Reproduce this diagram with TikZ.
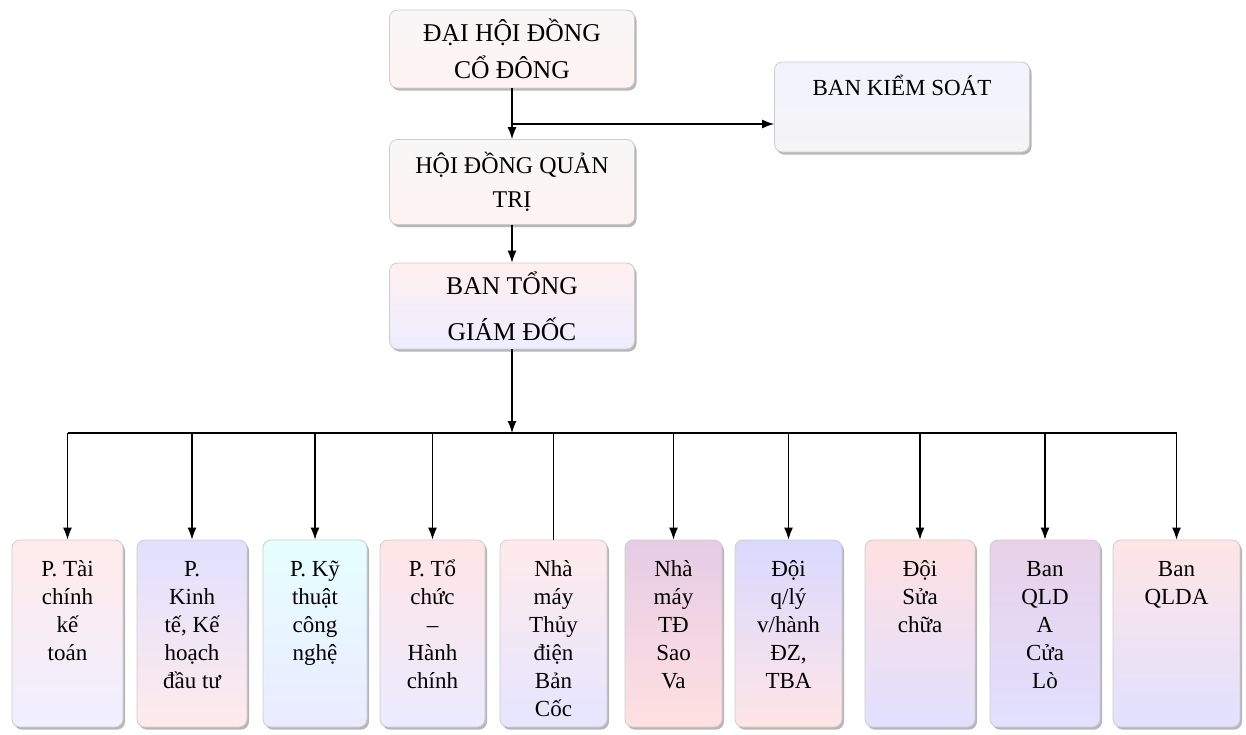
\documentclass[tikz,border=0pt]{standalone}
\usepackage{fontspec}
\setmainfont{Liberation Serif}
\usetikzlibrary{arrows.meta,shadows}

\begin{document}
\begin{tikzpicture}[x=0.5pt,y=-0.5pt,
    box/.style={draw=gray!40,rounded corners=4pt,inner sep=0pt,
      drop shadow={shadow xshift=1pt,shadow yshift=-1.3pt,fill=gray!70,opacity=0.8}},
    headbox/.style={box,align=center,minimum width=122.5pt,
      top color=gray!6,bottom color=red!5,
      font=\fontsize{12.8}{18.5}\selectfont},
    unit/.style={box,minimum height=93.5pt,font=\fontsize{11.5}{14}\selectfont},
    link/.style={line width=0.6pt},
    arr/.style={link,-{Latex[length=6pt,width=4.5pt]}}]
  \useasboundingbox[fill=white] (0,0) rectangle (1246,734);

  \node[headbox,minimum height=39pt] (dhdcd) at (512,49) {ĐẠI HỘI ĐỒNG\\CỔ ĐÔNG};
  \node[box,minimum width=127.5pt,minimum height=45pt,top color=blue!5,bottom color=gray!8,
    font=\fontsize{11.5}{18}\selectfont,text height=8pt,text depth=20pt] (bks) at (902,107) {BAN KIỂM SOÁT};
  \node[headbox,minimum height=42.5pt,font=\fontsize{12}{17}\selectfont] (hdqt) at (512,182) {HỘI ĐỒNG QUẢN\\TRỊ};
  \node[headbox,minimum height=43pt,top color=red!6,bottom color=blue!7,
    font=\fontsize{12.8}{23}\selectfont] (btgd) at (512,306) {BAN TỔNG\\GIÁM ĐỐC};

  % bottom row
  \node[unit,minimum width=55.5pt,top color=red!8,bottom color=blue!6] (tckt) at (67.5,633.5)
    {\parbox[t][93.5pt][t]{55pt}{\centering\vspace*{8.5pt}\strut P. Tài\\chính\\kế\\toán}};
  \node[unit,minimum width=55pt,top color=blue!12,bottom color=red!8] (ktkh) at (192,633.5)
    {\parbox[t][93.5pt][t]{55pt}{\centering\vspace*{8.5pt}\strut P.\\Kinh\\tế, Kế\\hoạch\\đầu tư}};
  \node[unit,minimum width=52pt,top color=cyan!10,bottom color=blue!8] (ktcn) at (315,633.5)
    {\parbox[t][93.5pt][t]{52pt}{\centering\vspace*{8.5pt}\strut P. Kỹ\\thuật\\công\\nghệ}};
  \node[unit,minimum width=52.5pt,top color=red!10,bottom color=blue!8] (tchc) at (432.5,633.5)
    {\parbox[t][93.5pt][t]{52pt}{\centering\vspace*{8.5pt}\strut P. Tổ\\chức\\–\\Hành\\chính}};
  \node[unit,minimum width=53.5pt,top color=red!8,bottom color=blue!10] (nmbc) at (553.5,633.5)
    {\parbox[t][93.5pt][t]{53pt}{\centering\vspace*{8.5pt}\strut Nhà\\máy\\Thủy\\điện\\Bản\\Cốc}};
  \node[unit,minimum width=48.5pt,top color=violet!20,bottom color=red!12] (nmsv) at (673.5,633.5)
    {\parbox[t][93.5pt][t]{48pt}{\centering\vspace*{8.5pt}\strut Nhà\\máy\\TĐ\\Sao\\Va}};
  \node[unit,minimum width=53.5pt,top color=blue!15,bottom color=red!10] (dqlvh) at (788.5,633.5)
    {\parbox[t][93.5pt][t]{53pt}{\centering\vspace*{8.5pt}\strut Đội\\q/lý\\v/hành\\ĐZ,\\TBA}};
  \node[unit,minimum width=55pt,top color=red!12,bottom color=blue!12] (dsc) at (920,633.5)
    {\parbox[t][93.5pt][t]{55pt}{\centering\vspace*{8.5pt}\strut Đội\\Sửa\\chữa}};
  \node[unit,minimum width=55pt,top color=violet!18,bottom color=blue!12] (qldacl) at (1045,633.5)
    {\parbox[t][93.5pt][t]{55pt}{\centering\vspace*{8.5pt}\strut Ban\\QLD\\A\\Cửa\\Lò}};
  \node[unit,minimum width=63.5pt,top color=red!10,bottom color=blue!12] (qlda) at (1176.5,633.5)
    {\parbox[t][93.5pt][t]{63pt}{\centering\vspace*{8.5pt}\strut Ban\\QLDA}};

  % connectors
  \coordinate (split) at (512,124);
  \coordinate (bus) at (512,433);
  \draw[arr] (dhdcd) -- (hdqt);
  \draw[arr] (split) -- (split -| bks.west);
  \draw[arr] (hdqt) -- (btgd);
  \draw[arr] (btgd.south) -- (bus);
  \draw[link] (tckt.north |- bus) -- (qlda.north |- bus);
  \foreach \n in {tckt,ktkh,ktcn,tchc,nmsv,dqlvh,dsc,qldacl,qlda}
    \draw[arr] (\n.north |- bus) -- (\n.north);
  \draw[link] (nmbc.north |- bus) -- (nmbc.north);
\end{tikzpicture}
\end{document}
